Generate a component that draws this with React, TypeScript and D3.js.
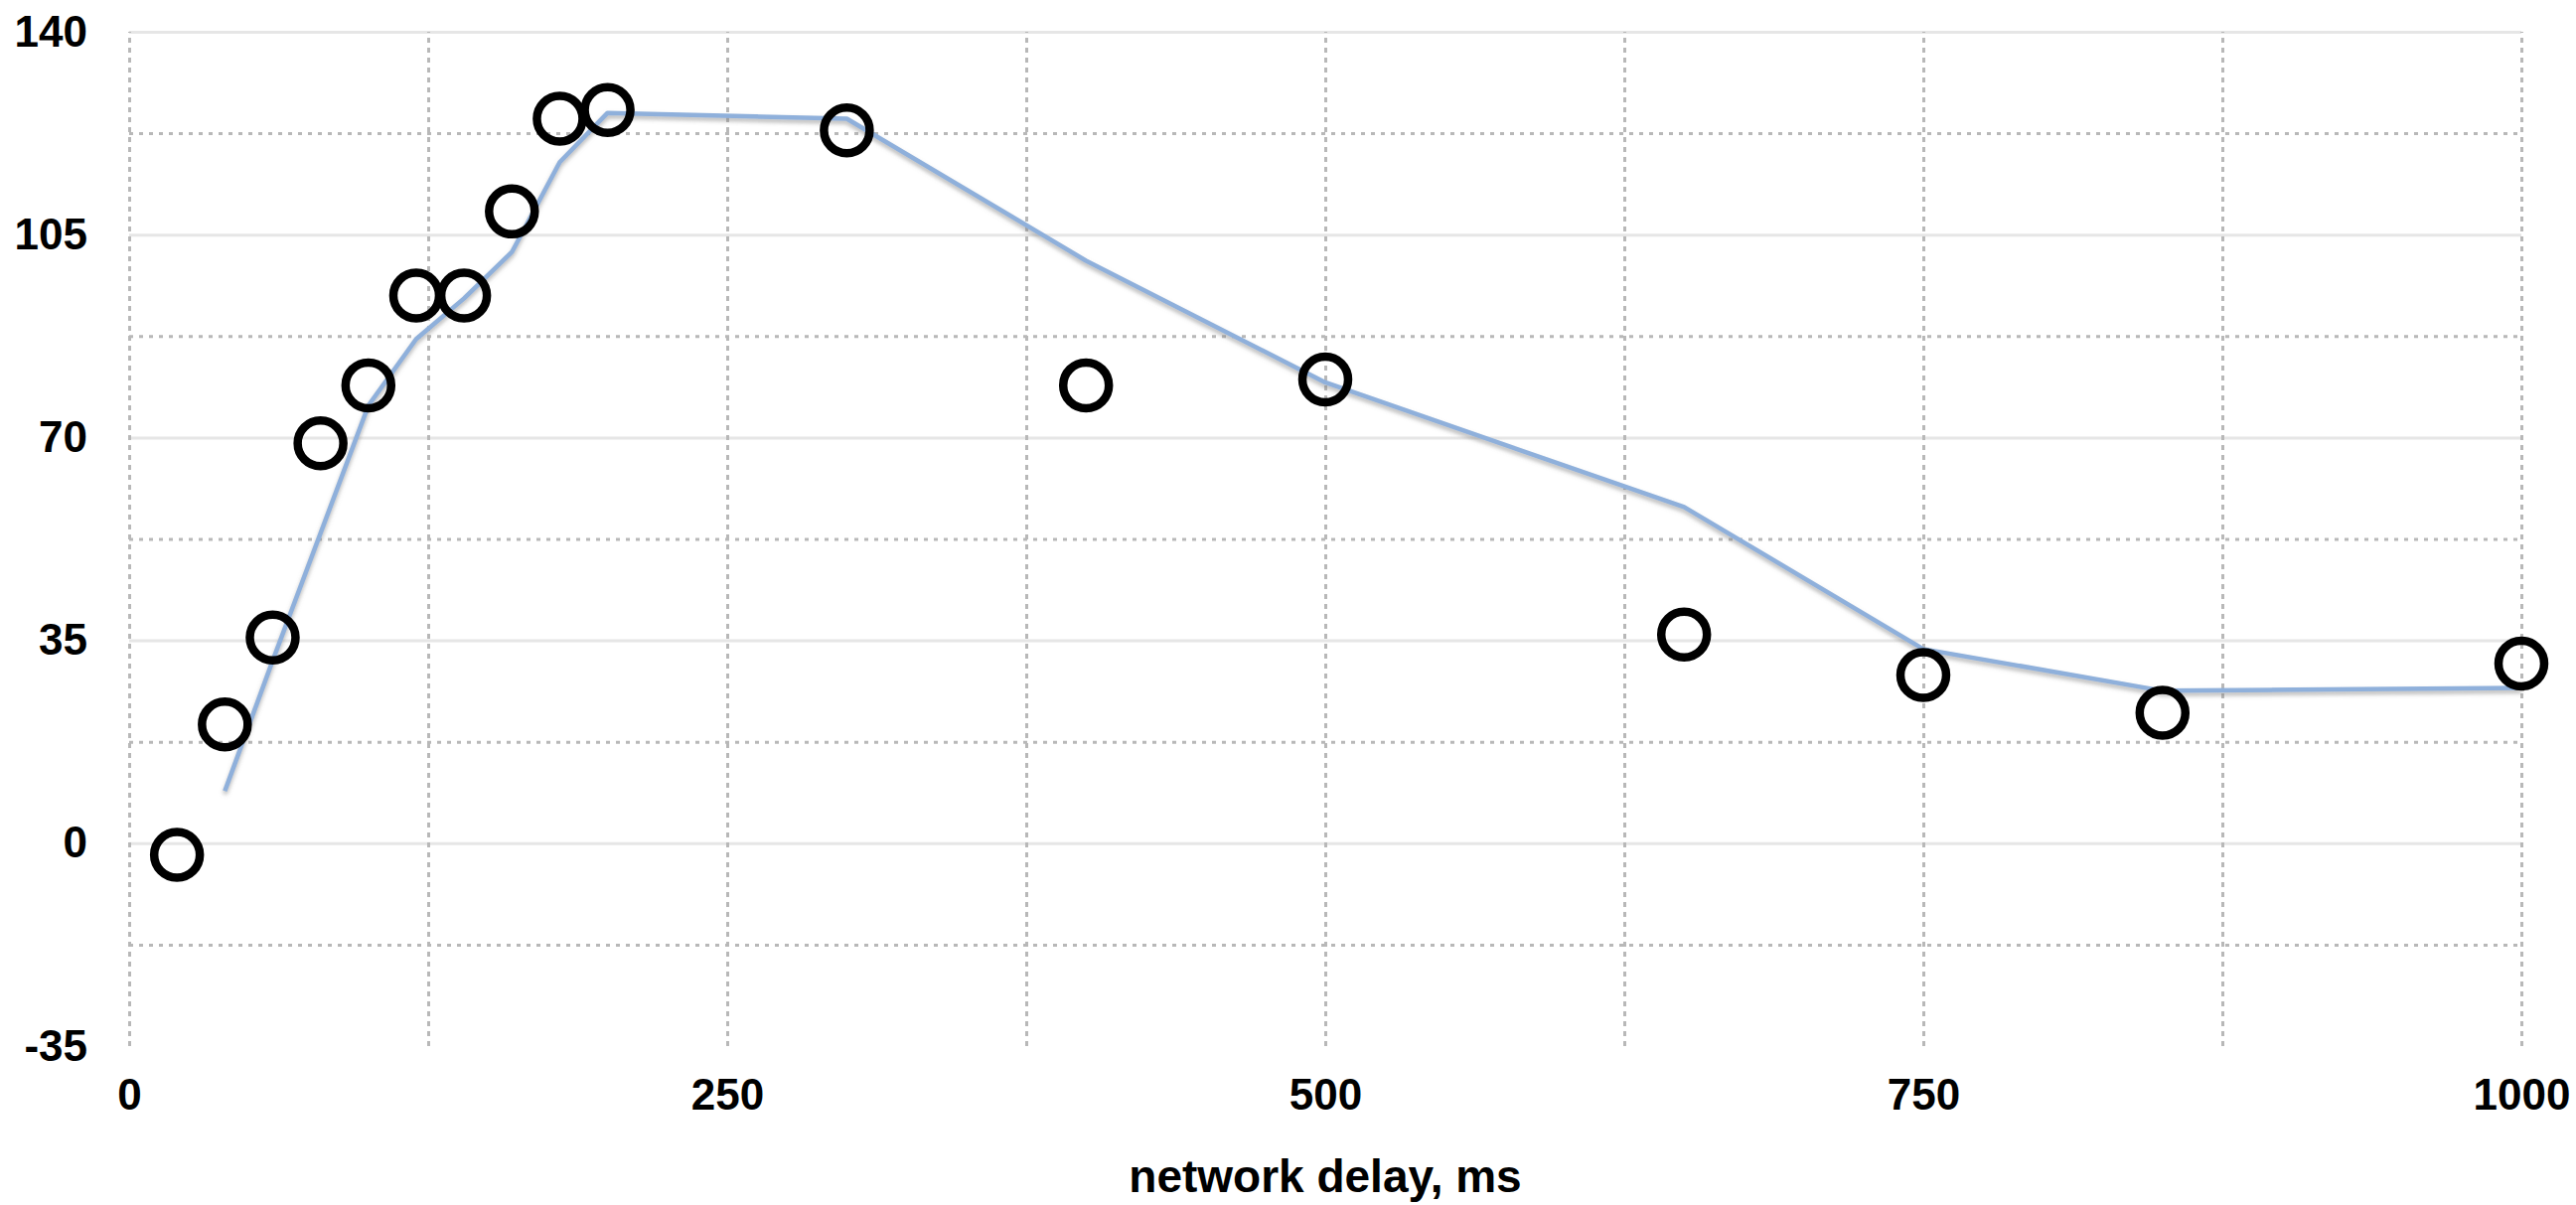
import React, { useEffect, useRef } from 'react';
import * as d3 from 'd3';

// measured points (open circles)
const delayMs = [20, 40, 60, 80, 100, 120, 140, 160, 180, 200, 300, 400, 500, 650, 750, 850, 1000];
const measured = [-2, 20.5, 35.5, 69, 79, 94.5, 94.5, 109, 125, 126.5, 123, 79, 80, 36, 29, 22.5, 31];

// fitted trend line
const fitDelay = [40, 60, 80, 100, 120, 140, 160, 180, 200, 300, 400, 500, 650, 750, 850, 1000];
const fitValue = [9, 31.5, 53.5, 75.5, 87, 94, 102, 117.5, 126, 125, 100.5, 79.5, 58, 33.5, 26.3, 26.8];

const xTicks = [0, 250, 500, 750, 1000];
const xGrid = [0, 125, 250, 375, 500, 625, 750, 875, 1000];
const yTicks = [-35, 0, 35, 70, 105, 140];
const yMinor = [-17.5, 17.5, 52.5, 87.5, 122.5];

const xLabel = 'network delay, ms';

export default function App() {
  const ref = useRef<SVGSVGElement>(null);

  useEffect(() => {
    const width = 2593;
    const height = 1213;
    const margin = { top: 32, right: 55, bottom: 160, left: 130 };
    const innerW = width - margin.left - margin.right;
    const innerH = height - margin.top - margin.bottom;
    const font = '"Liberation Sans", Arial, Helvetica, sans-serif';

    const svg = d3.select(ref.current);
    svg.selectAll('*').remove();
    svg.attr('width', width).attr('height', height);

    const defs = svg.append('defs');
    const f = defs.append('filter').attr('id', 'shadow')
      .attr('x', '-5%').attr('y', '-20%').attr('width', '110%').attr('height', '140%');
    f.append('feDropShadow')
      .attr('dx', 0).attr('dy', 3).attr('stdDeviation', 2)
      .attr('flood-color', '#777').attr('flood-opacity', 0.55);

    const g = svg.append('g').attr('transform', `translate(${margin.left},${margin.top})`);

    const xScale = d3.scaleLinear().domain([0, 1000]).range([0, innerW]);
    const yScale = d3.scaleLinear().domain([-35, 140]).range([innerH, 0]);

    // major horizontal grid (solid)
    g.append('g')
      .call(d3.axisLeft(yScale).tickValues(yTicks.slice(1)).tickSize(-innerW).tickFormat(() => ''))
      .call(s => s.select('.domain').remove())
      .selectAll('line').attr('stroke', '#e6e6e6').attr('stroke-width', 3);

    // minor horizontal grid (dashed)
    g.append('g')
      .call(d3.axisLeft(yScale).tickValues(yMinor).tickSize(-innerW).tickFormat(() => ''))
      .call(s => s.select('.domain').remove())
      .selectAll('line').attr('stroke', '#b8b8b8').attr('stroke-width', 3)
      .attr('stroke-dasharray', '4 6');

    // vertical grid (dashed)
    g.append('g')
      .attr('transform', `translate(0,${innerH})`)
      .call(d3.axisBottom(xScale).tickValues(xGrid).tickSize(-innerH).tickFormat(() => ''))
      .call(s => s.select('.domain').remove())
      .selectAll('line').attr('stroke', '#b8b8b8').attr('stroke-width', 3)
      .attr('stroke-dasharray', '5 5');

    // bottom axis line
    g.append('line')
      .attr('x1', 0).attr('x2', innerW)
      .attr('y1', yScale(-35)).attr('y2', yScale(-35))
      .attr('stroke', '#333').attr('stroke-width', 4)
      .attr('filter', 'url(#shadow)');

    // tick labels
    g.append('g')
      .attr('transform', `translate(0,${innerH})`)
      .call(d3.axisBottom(xScale).tickValues(xTicks).tickSize(0).tickPadding(33).tickFormat(d => String(d)))
      .call(s => s.select('.domain').remove())
      .selectAll('text')
      .attr('fill', '#000')
      .style('font-family', font)
      .style('font-weight', 700)
      .style('font-size', '44px');

    g.append('g')
      .call(d3.axisLeft(yScale).tickValues(yTicks).tickSize(0).tickPadding(42).tickFormat(d => String(d)))
      .call(s => s.select('.domain').remove())
      .selectAll('text')
      .attr('fill', '#000')
      .style('font-family', font)
      .style('font-weight', 700)
      .style('font-size', '44px');

    // axis title
    g.append('text')
      .attr('x', innerW / 2)
      .attr('y', innerH + 147)
      .attr('text-anchor', 'middle')
      .style('font-family', font)
      .style('font-weight', 700)
      .style('font-size', '46px')
      .text(xLabel);

    // trend line
    const fit = fitDelay.map((d, i) => ({ x: d, y: fitValue[i] }));
    const line = d3.line<{ x: number; y: number }>()
      .x(d => xScale(d.x))
      .y(d => yScale(d.y))
      .curve(d3.curveLinear);
    g.append('path')
      .datum(fit)
      .attr('fill', 'none')
      .attr('stroke', '#8fb0db')
      .attr('stroke-width', 4.5)
      .attr('stroke-linejoin', 'round')
      .attr('filter', 'url(#shadow)')
      .attr('d', line);

    // measured points
    const pts = delayMs.map((d, i) => ({ x: d, y: measured[i] }));
    g.selectAll('.dot')
      .data(pts)
      .enter()
      .append('circle')
      .attr('class', 'dot')
      .attr('cx', d => xScale(d.x))
      .attr('cy', d => yScale(d.y))
      .attr('r', 23)
      .attr('fill', 'none')
      .attr('stroke', '#000')
      .attr('stroke-width', 8.5);
  }, []);

  return (
    <div style={{ position: 'absolute', left: 0, top: 0, background: '#fff' }}>
      <svg ref={ref} style={{ display: 'block' }} />
    </div>
  );
}
